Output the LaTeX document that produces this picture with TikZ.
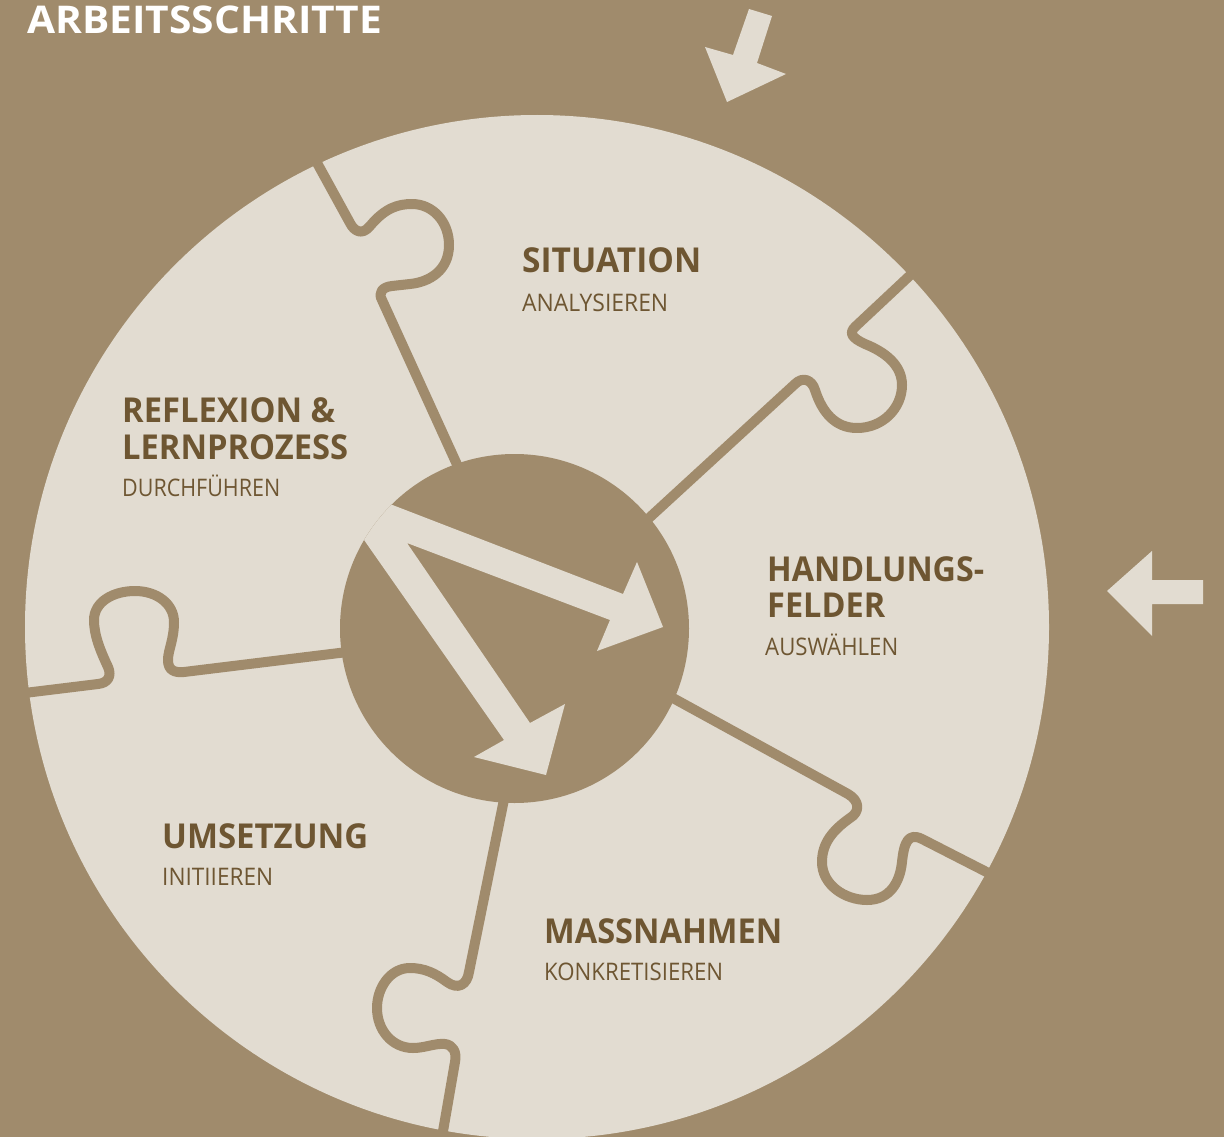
\documentclass[tikz,border=0pt]{standalone}
\usepackage{fontspec}
\setmainfont{Open Sans}
\usepackage{graphicx}
\definecolor{bg}{HTML}{A08B6C}
\definecolor{light}{HTML}{E2DCD1}
\definecolor{txt}{HTML}{6E5632}
\newcommand{\bl}[2]{\resizebox{#1pt}{\height}{\fontsize{34.3}{36}\selectfont\bfseries #2}}
\newcommand{\rl}[2]{\resizebox{#1pt}{\height}{\fontsize{24.2}{26}\selectfont #2}}
\tikzset{
  seam/.style={draw=bg, line width=10pt, line join=round, line cap=round},
  lbl/.style={anchor=base west, inner sep=0pt, text=txt},
  pointer/.style={fill=light}
}
\begin{document}
\begin{tikzpicture}[x=1pt,y=-1pt]
\useasboundingbox (0,0) rectangle (1224,1137);
\clip (0,0) rectangle (1224,1137);
\fill[bg] (0,0) rectangle (1224,1137);
% outer disc
\fill[light] (537,627) circle[radius=512pt];
% seams
\draw[seam] (305,141) -- (350,223) .. controls (354,231) and (362,236) .. (370,226)
  .. controls (385,208) and (398,204) .. (412,204)
  .. controls (433,204) and (449,222) .. (449,245)
  .. controls (449,270) and (430,282) .. (410,284) -- (392,286)
  .. controls (382,287) and (378,293) .. (382,300) -- (480,515);
\draw[seam] (600,563) -- (795,384) .. controls (803,376) and (812,380) .. (815,390)
  .. controls (822,412) and (835,428) .. (857,428)
  .. controls (883,428) and (902,408) .. (902,385)
  .. controls (902,365) and (885,352) .. (865,344)
  .. controls (852,338) and (848,333) .. (856,326) -- (935,252);
\draw[seam] (0,696) -- (98,684) .. controls (108,683) and (112,676) .. (108,667)
  .. controls (100,650) and (94,635) .. (94,620)
  .. controls (94,602) and (113,591) .. (135,591)
  .. controls (157,591) and (174,604) .. (174,622)
  .. controls (174,640) and (168,650) .. (168,660)
  .. controls (168,670) and (174,673) .. (184,672) -- (380,648);
\draw[seam] (620,669) -- (848,794) .. controls (860,801) and (860,812) .. (850,818)
  .. controls (833,830) and (822,843) .. (822,862)
  .. controls (822,885) and (845,900) .. (867,900)
  .. controls (890,900) and (900,882) .. (902,862)
  .. controls (904,843) and (908,832) .. (922,839) -- (1010,884);
\draw[seam] (512,760) -- (469,972) .. controls (467,985) and (458,990) .. (447,982)
  .. controls (435,973) and (424,968) .. (410,968)
  .. controls (390,968) and (377,988) .. (377,1008)
  .. controls (377,1030) and (392,1048) .. (413,1048)
  .. controls (425,1048) and (435,1043) .. (445,1044)
  .. controls (453,1045) and (457,1052) .. (455,1062) -- (438,1160);
% hub
\node[circle, fill=bg, minimum size=349pt, inner sep=0pt] (hub) at (514.5,628.5) {};
\begin{scope}
  \clip (514.5,628.5) circle[radius=174.5pt];
  \fill[light] (320,477) -- (623,594) -- (637,562) -- (663,627) -- (597,651) -- (610,620)
    -- (407,543) -- (530,723) -- (565,704) -- (546,775) -- (474,757) -- (504,740) -- cycle;
\end{scope}
% outside pointers
\fill[pointer] (749,9) -- (772,16) -- (757,63) -- (786,74) -- (727,102) -- (705,47) -- (733,55) -- cycle;
\fill[pointer] (1107,591) -- (1152,551) -- (1152,580) -- (1203,580) -- (1203,604) -- (1152,604) -- (1152,636) -- cycle;
% labels
\node[anchor=base west, inner sep=0pt, text=white] (title) at (27,33.3)
  {\resizebox{355pt}{\height}{\fontsize{38.2}{40}\selectfont\bfseries ARBEITSSCHRITTE}};
\node[lbl] (sit) at (522,272.3) {\bl{179}{SITUATION}};
\node[lbl] (sitb) at (522,311.7) {\rl{146}{ANALYSIEREN}};
\node[lbl] (ref) at (122,422.7) {\bl{213}{REFLEXION \&}};
\node[lbl] (refa) at (122,459) {\bl{226}{LERNPROZESS}};
\node[lbl] (refb) at (122,496) {\rl{158}{DURCHFÜHREN}};
\node[lbl] (han) at (767,581) {\bl{217}{HANDLUNGS-}};
\node[lbl] (hana) at (767,617.7) {\bl{118}{FELDER}};
\node[lbl] (hanb) at (765,655) {\rl{133}{AUSWÄHLEN}};
\node[lbl] (ums) at (162,848) {\bl{206}{UMSETZUNG}};
\node[lbl] (umsb) at (162,885) {\rl{111}{INITIIEREN}};
\node[lbl] (mas) at (544,943) {\bl{238}{MASSNAHMEN}};
\node[lbl] (masb) at (544,980) {\rl{179}{KONKRETISIEREN}};
\end{tikzpicture}
\end{document}
